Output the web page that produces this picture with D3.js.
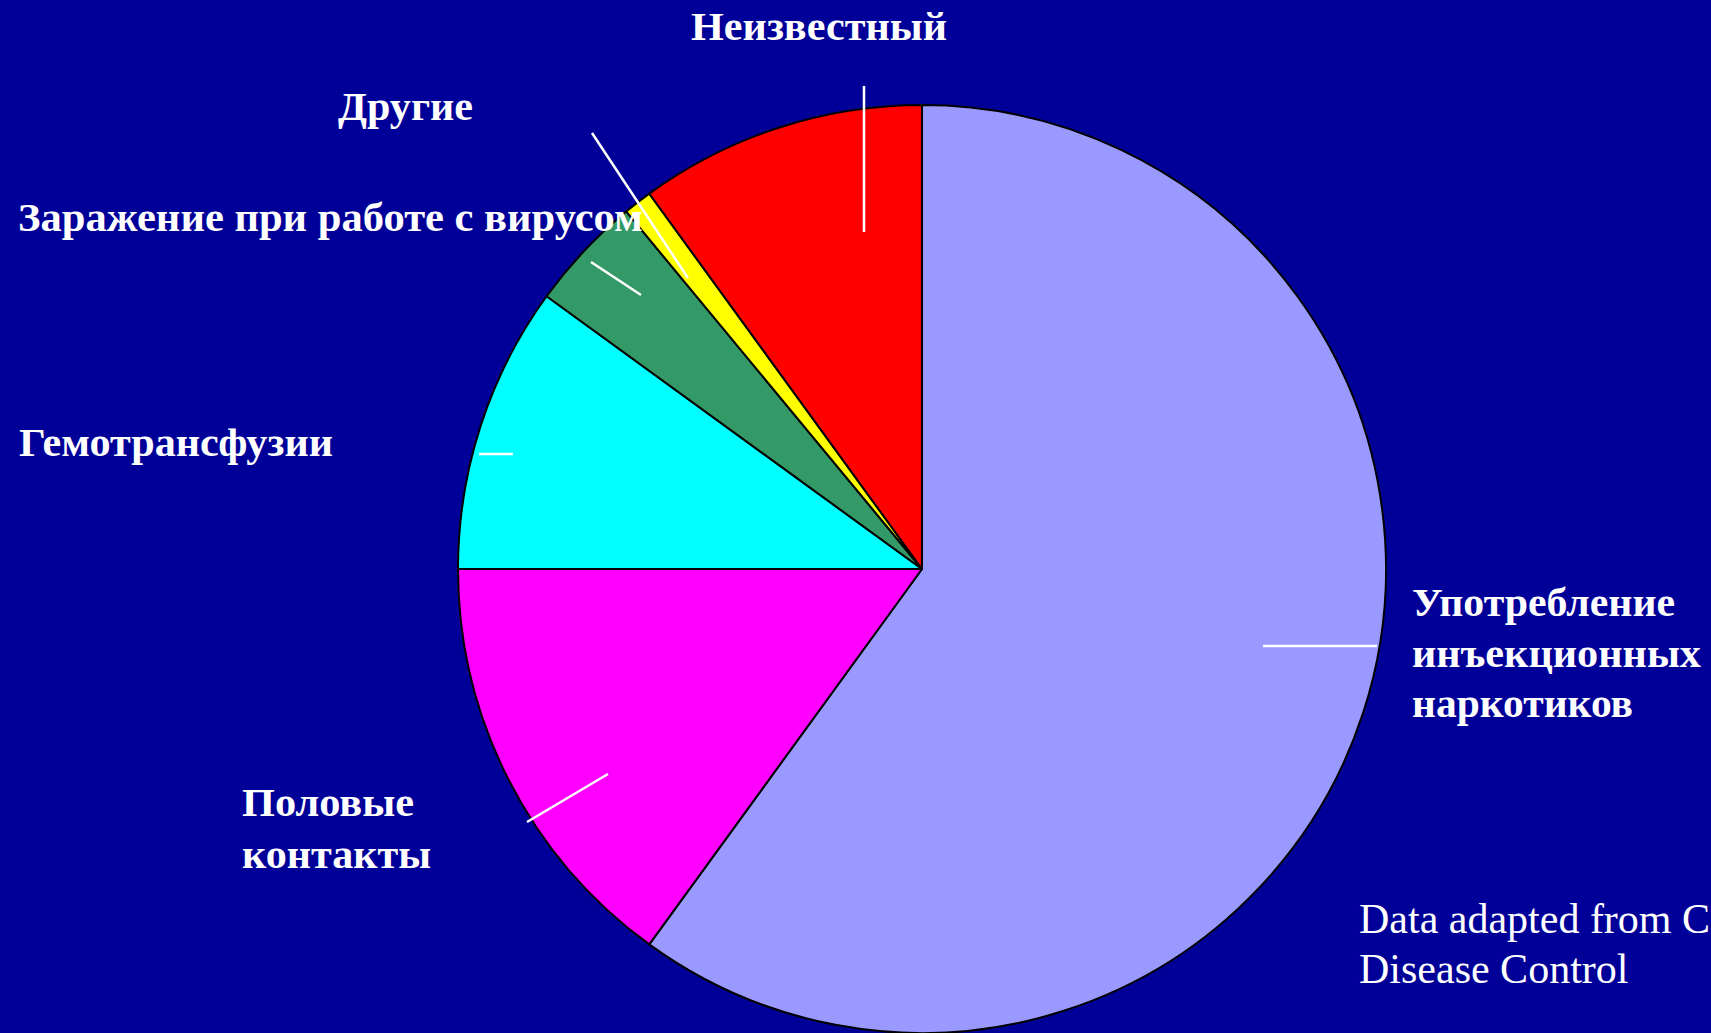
<!DOCTYPE html>
<html>
<head>
<meta charset="utf-8">
<script src="https://cdn.jsdelivr.net/npm/d3@7"></script>
<style>
  html, body { margin: 0; padding: 0; background: #000099; overflow: hidden; }
  svg { display: block; }
</style>
</head>
<body>
<script>
// ---- data ----
const categories = [
  "Употребление инъекционных наркотиков",
  "Половые контакты",
  "Гемотрансфузии",
  "Заражение при работе с вирусом",
  "Другие",
  "Неизвестный"
];
const values = [60, 15, 10, 4, 1, 10];
const sliceColors = ["#9999FF", "#FF00FF", "#00FFFF", "#339966", "#FFFF00", "#FF0000"];

// label text lines per category (same order)
const labelLines = [
  ["Употребление", "инъекционных", "наркотиков"],
  ["Половые", "контакты"],
  ["Гемотрансфузии"],
  ["Заражение при работе с вирусом"],
  ["Другие"],
  ["Неизвестный"]
];
const sourceNote = ["Data adapted from Centers for", "Disease Control"];

// ---- layout (positions / styles) ----
const W = 1711, H = 1033;
const cx = 922, cy = 569, R = 464;
// label anchor (left x, first baseline y, line spacing, widths per line)
const labelLayout = [
  { x: 1412, y: 616, dy: 50.5, widths: [263, 289, 221] },
  { x: 242, y: 816, dy: 51.5, widths: [172, 189] },
  { x: 19, y: 456, dy: 0, widths: [314] },
  { x: 18, y: 231, dy: 0, widths: [625] },
  { x: 338, y: 120, dy: 0, widths: [135] },
  { x: 691, y: 40, dy: 0, widths: [256] }
];
// leader lines [x1,y1,x2,y2]
const leaderLayout = [
  [1263, 646, 1377, 646],
  [527, 822, 608, 774],
  [479, 454, 513, 454],
  [591, 262, 641, 295],
  [592, 133, 688, 278],
  [864, 86, 864, 232]
];

const svg = d3.select("body").append("svg")
  .attr("width", W).attr("height", H);

svg.append("rect").attr("width", W).attr("height", H).attr("fill", "#000099");

const pie = d3.pie().sort(null).value(d => d.value).startAngle(0).endAngle(2 * Math.PI);
const arc = d3.arc().innerRadius(0).outerRadius(R);
const color = d3.scaleOrdinal().domain(categories).range(sliceColors);

const data = categories.map((c, i) => ({ category: c, value: values[i] }));

const g = svg.append("g").attr("transform", `translate(${cx},${cy})`);
g.selectAll("path.slice")
  .data(pie(data))
  .join("path")
  .attr("class", "slice")
  .attr("d", arc)
  .attr("fill", d => color(d.data.category))
  .attr("stroke", "#000000")
  .attr("stroke-width", 2)
  .attr("stroke-linejoin", "round");

// leader lines
svg.selectAll("line.leader")
  .data(leaderLayout)
  .join("line")
  .attr("class", "leader")
  .attr("x1", d => d[0]).attr("y1", d => d[1])
  .attr("x2", d => d[2]).attr("y2", d => d[3])
  .attr("stroke", "#FFFFFF")
  .attr("stroke-width", 2.5);

// labels
const labels = svg.selectAll("text.label")
  .data(categories)
  .join("text")
  .attr("class", "label")
  .attr("font-family", "'Liberation Serif', 'Times New Roman', serif")
  .attr("font-weight", "bold")
  .attr("font-size", 41)
  .attr("fill", "#FFFFFF");

labels.each(function(c, i) {
  const L = labelLayout[i];
  d3.select(this).selectAll("tspan")
    .data(labelLines[i])
    .join("tspan")
    .attr("x", L.x)
    .attr("y", (t, j) => L.y + j * L.dy)
    .attr("textLength", (t, j) => L.widths[j])
    .attr("lengthAdjust", "spacingAndGlyphs")
    .text(t => t);
});

// source note
svg.append("text")
  .attr("font-family", "'Liberation Serif', 'Times New Roman', serif")
  .attr("font-size", 42)
  .attr("fill", "#FFFFFF")
  .selectAll("tspan")
  .data(sourceNote)
  .join("tspan")
  .attr("x", 1359)
  .attr("y", (t, j) => 933 + j * 50)
  .text(t => t);
</script>
</body>
</html>
